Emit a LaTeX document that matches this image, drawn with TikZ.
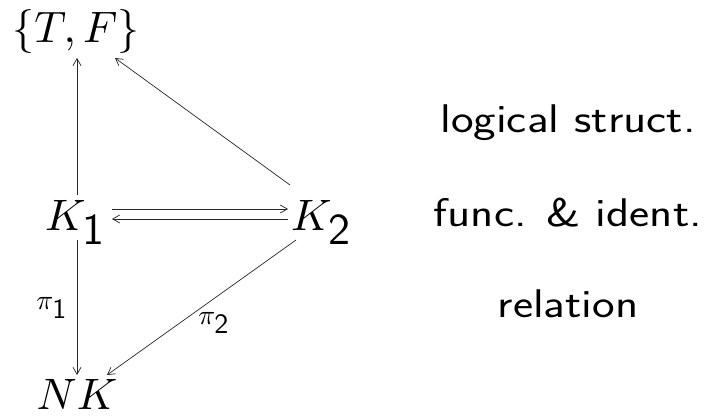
\documentclass[tikz,border=0pt]{standalone}
\usepackage{fontspec}
\usetikzlibrary{calc,arrows.meta}
\newfontfamily\slifont{Latin Modern Sans}[FakeStretch=1.2]
\newcommand{\objmath}[1]{\scalebox{4.4}{$#1$}}
\newcommand{\lblmath}[1]{\scalebox{2.8}{$#1$}}
\begin{document}
\begin{tikzpicture}[x=1pt,y=1pt,
  obj/.style={inner sep=0pt},
  lbl/.style={inner sep=1pt},
  side/.style={anchor=base, inner sep=0pt, font=\slifont\fontsize{40}{48}\selectfont},
  arr/.style={-{Straight Barb[length=7pt,width=8pt]}, line width=0.7pt, black!85}]
\useasboundingbox (0,0) rectangle (722,415);
\node[obj, anchor=base] (TF) at (76,372) {\objmath{\{T,F\}}};
\node[obj, anchor=base] (K1) at (76,185) {\objmath{K_{\textsf{1}}}};
\node[obj, anchor=base] (K2) at (322,185) {\objmath{K_{\textsf{2}}}};
\node[obj, anchor=base] (NK) at (77,6) {\objmath{NK}};
\draw[arr] ($(K1.base)+(1,35)$) -- ($(TF.base)+(1,-15)$);
\draw[arr] ($(K2.base)+(-32,45)$) -- ($(TF.base)+(39,-15)$);
\draw[arr] ($(K1.base)+(36,21)$) -- ($(K2.base)+(-34,21)$);
\draw[arr] ($(K2.base)+(-34,11)$) -- ($(K1.base)+(36,11)$);
\draw[arr] ($(K1.base)+(1,-10)$) -- ($(NK.base)+(0,34)$);
\draw[arr] ($(K2.base)+(-26,-10)$) -- ($(NK.base)+(30,34)$);
\node[lbl] (p1) at (52,107) {\lblmath{\pi_{\textsf{1}}}};
\node[lbl] (p2) at (214,92) {\lblmath{\pi_{\textsf{2}}}};
\node[side] (t1) at (568,282) {logical struct.};
\node[side] (t2) at (568,188) {func. \& ident.};
\node[side] (t3) at (568,98) {relation};
\end{tikzpicture}
\end{document}
